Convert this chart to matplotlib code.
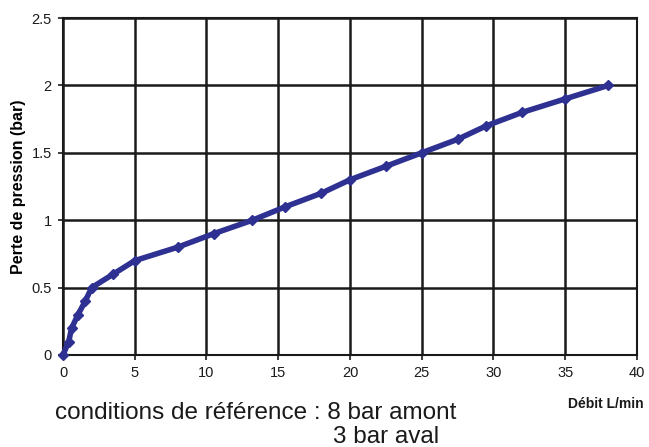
import matplotlib.pyplot as plt

plt.rcParams['font.family'] = ['Liberation Sans', 'DejaVu Sans']

# debit (L/min) vs perte de pression (bar)
debit = [0, 0.4, 0.6, 1.05, 1.55, 2.0, 3.5, 5.0, 8.0, 10.5, 13.2, 15.5, 18.0,
         20.0, 22.5, 25.0, 27.5, 29.5, 32.0, 35.0, 38.0]
perte = [0, 0.1, 0.2, 0.3, 0.4, 0.5, 0.6, 0.7, 0.8, 0.9, 1.0, 1.1, 1.2,
         1.3, 1.4, 1.5, 1.6, 1.7, 1.8, 1.9, 2.0]
xticks = [0, 5, 10, 15, 20, 25, 30, 35, 40]
yticks = [0, 0.5, 1, 1.5, 2, 2.5]

fig = plt.figure(figsize=(6.49, 4.47), dpi=100)
ax = fig.add_axes([63 / 649, 92 / 447, 574 / 649, 337 / 447])

ax.plot(debit, perte, color='#2E3192', lw=4, marker='D', ms=5.5,
        solid_capstyle='round', zorder=3, clip_on=False)

ax.set_xlim(0, 40)
ax.set_ylim(0, 2.5)
ax.set_xticks(xticks)
ax.set_yticks(yticks)
ax.set_xticklabels([str(t) for t in xticks])
ax.set_yticklabels(['0', '0.5', '1', '1.5', '2', '2.5'])
ax.grid(True, color='#1a1a1a', lw=1.8)
for s in ax.spines.values():
    s.set_color('#1a1a1a')
    s.set_linewidth(1.5)
ax.tick_params(direction='out', length=3.6, width=1.2, labelsize=10.5,
               colors='#1a1a1a', pad=4.5)

ax.set_ylabel('Perte de pression (bar)', fontsize=11.5, fontweight='bold')
ax.yaxis.set_label_coords(-0.064, 0.5)
fig.text(606 / 649, 1 - 404 / 447, 'Débit L/min', fontsize=10,
         fontweight='bold', ha='center', va='center', color='#1a1a1a')
fig.text(55 / 649, 1 - 419 / 447, 'conditions de référence : 8 bar amont',
         fontsize=17.5, ha='left', va='baseline', color='#1a1a1a')
fig.text(333 / 649, 1 - 443 / 447, '3 bar aval',
         fontsize=17.5, ha='left', va='baseline', color='#1a1a1a')

fig.savefig('out.png', dpi=100)
